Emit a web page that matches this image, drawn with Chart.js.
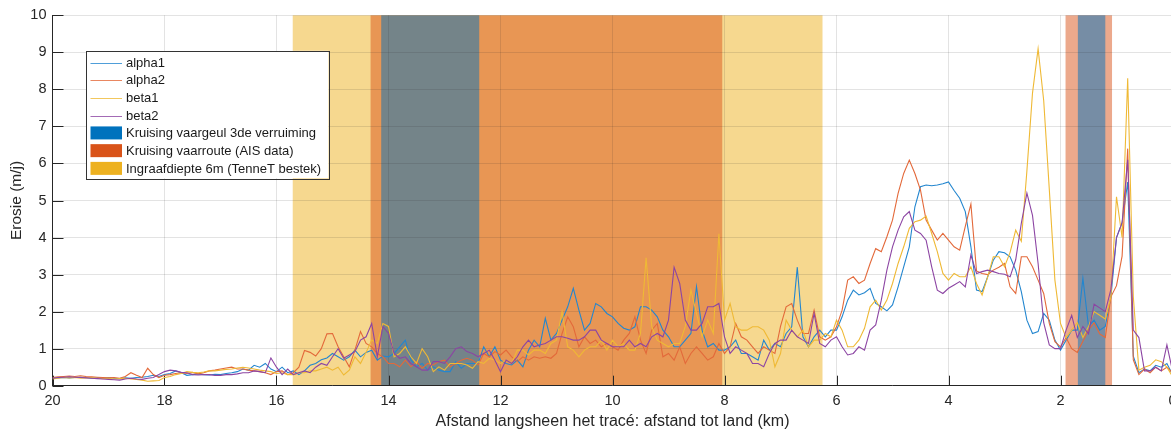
<!DOCTYPE html>
<html>
<head>
<meta charset="utf-8">
<script src="https://cdn.jsdelivr.net/npm/chart.js@4"></script>
<style>
  html, body { margin: 0; padding: 0; background: #fff; overflow: hidden; }
  #wrap { position: absolute; left: 0; top: 0; width: 1174px; height: 430px; }
</style>
</head>
<body>
<div id="wrap"><canvas id="c"></canvas></div>
<script>
// Distance along the route to shore (km), every 100 m
const km = [
  20,19.9,19.8,19.7,19.6,19.5,19.4,19.3,19.2,19.1,
  19,18.9,18.8,18.7,18.6,18.5,18.4,18.3,18.2,18.1,
  18,17.9,17.8,17.7,17.6,17.5,17.4,17.3,17.2,17.1,
  17,16.9,16.8,16.7,16.6,16.5,16.4,16.3,16.2,16.1,
  16,15.9,15.8,15.7,15.6,15.5,15.4,15.3,15.2,15.1,
  15,14.9,14.8,14.7,14.6,14.5,14.4,14.3,14.2,14.1,
  14,13.9,13.8,13.7,13.6,13.5,13.4,13.3,13.2,13.1,
  13,12.9,12.8,12.7,12.6,12.5,12.4,12.3,12.2,12.1,
  12,11.9,11.8,11.7,11.6,11.5,11.4,11.3,11.2,11.1,
  11,10.9,10.8,10.7,10.6,10.5,10.4,10.3,10.2,10.1,
  10,9.9,9.8,9.7,9.6,9.5,9.4,9.3,9.2,9.1,
  9,8.9,8.8,8.7,8.6,8.5,8.4,8.3,8.2,8.1,
  8,7.9,7.8,7.7,7.6,7.5,7.4,7.3,7.2,7.1,
  7,6.9,6.8,6.7,6.6,6.5,6.4,6.3,6.2,6.1,
  6,5.9,5.8,5.7,5.6,5.5,5.4,5.3,5.2,5.1,
  5,4.9,4.8,4.7,4.6,4.5,4.4,4.3,4.2,4.1,
  4,3.9,3.8,3.7,3.6,3.5,3.4,3.3,3.2,3.1,
  3,2.9,2.8,2.7,2.6,2.5,2.4,2.3,2.2,2.1,
  2,1.9,1.8,1.7,1.6,1.5,1.4,1.3,1.2,1.1,
  1,0.9,0.8,0.7,0.6,0.5,0.4,0.3,0.2,0.1,
  0
];

// Erosion (m/j) per scenario
const alpha1 = [
  0.20,0.21,0.22,0.21,0.22,0.23,0.22,0.20,0.21,0.20,
  0.22,0.20,0.19,0.21,0.20,0.22,0.23,0.25,0.28,0.25,
  0.30,0.33,0.40,0.35,0.28,0.30,0.32,0.30,0.29,0.31,
  0.30,0.33,0.35,0.38,0.45,0.42,0.55,0.50,0.60,0.45,
  0.38,0.50,0.35,0.40,0.30,0.40,0.55,0.60,0.70,0.75,
  0.87,0.78,0.69,0.78,0.96,0.78,0.90,0.96,0.69,0.80,
  0.78,0.87,1.05,1.23,0.69,0.51,0.60,0.42,0.51,0.42,
  0.38,0.38,0.65,0.47,0.60,0.60,0.60,1.05,0.78,1.05,
  0.69,0.60,0.56,0.69,0.51,0.96,1.23,1.05,1.82,1.23,
  1.41,1.77,2.13,2.63,2.04,1.50,1.68,2.22,2.13,1.95,
  1.86,1.68,1.55,1.50,1.59,2.13,2.13,2.04,1.86,1.50,
  1.32,1.05,1.05,1.23,1.41,2.67,1.50,1.05,1.14,0.96,
  0.96,1.05,1.23,0.87,0.87,0.78,0.69,1.23,0.96,1.14,
  1.05,1.41,1.59,3.20,1.32,1.05,1.32,1.50,1.32,1.50,
  1.50,1.86,2.31,2.58,2.45,2.51,2.63,2.22,2.13,2.02,
  2.18,2.67,3.21,3.75,4.83,5.37,5.42,5.40,5.42,5.45,
  5.50,5.27,5.06,4.70,3.75,2.58,2.54,2.94,3.39,3.62,
  3.59,3.48,3.12,2.54,1.77,1.41,1.46,1.95,1.77,1.23,
  0.96,1.23,1.50,1.50,2.90,1.60,1.77,1.50,1.60,2.40,
  4.00,4.40,5.50,0.80,0.35,0.45,0.40,0.55,0.50,0.60,
  0.30
];
const alpha2 = [
  0.22,0.24,0.25,0.26,0.25,0.27,0.25,0.24,0.23,0.22,
  0.21,0.22,0.20,0.25,0.35,0.28,0.22,0.47,0.30,0.22,
  0.28,0.30,0.33,0.35,0.33,0.36,0.32,0.35,0.40,0.42,
  0.45,0.48,0.50,0.45,0.45,0.42,0.40,0.38,0.35,0.30,
  0.38,0.40,0.30,0.35,0.50,0.95,0.90,0.80,1.00,1.40,
  1.41,1.05,0.78,0.51,0.96,1.46,1.14,1.05,0.87,0.78,
  0.60,0.60,0.51,0.69,0.51,0.65,0.47,0.60,0.56,0.65,
  0.69,0.51,0.60,0.69,0.74,0.69,0.56,0.87,0.78,0.92,
  0.83,0.96,0.78,0.65,0.78,0.69,0.78,0.74,0.78,0.74,
  0.87,1.41,1.86,1.59,1.05,1.32,1.14,1.23,1.05,1.14,
  1.05,0.96,1.23,1.41,1.86,1.23,0.87,1.50,1.68,0.78,
  0.87,0.69,1.05,0.60,0.87,1.05,0.87,0.69,0.78,1.14,
  0.87,1.05,1.68,1.32,1.23,1.05,0.87,1.05,0.96,0.87,
  1.60,2.13,2.22,1.77,1.41,1.41,2.04,1.32,1.23,1.32,
  1.59,2.04,2.85,2.94,2.76,2.85,3.30,3.70,3.62,4.02,
  4.47,5.19,5.73,6.09,5.73,5.28,4.47,4.20,3.93,4.11,
  3.93,3.75,3.66,4.30,4.90,3.10,3.03,3.00,3.12,3.20,
  3.30,2.67,2.49,3.48,3.48,3.21,2.85,2.49,1.68,1.19,
  1.05,1.30,1.00,0.90,1.20,1.50,1.70,1.40,1.30,2.40,
  2.70,3.50,6.40,0.70,0.30,0.45,0.35,0.50,0.40,0.50,
  0.35
];
const beta1 = [
  0.18,0.20,0.22,0.21,0.22,0.20,0.21,0.22,0.20,0.19,
  0.20,0.18,0.19,0.20,0.18,0.17,0.15,0.12,0.13,0.14,
  0.22,0.25,0.30,0.33,0.38,0.36,0.35,0.37,0.40,0.40,
  0.42,0.44,0.45,0.48,0.50,0.48,0.45,0.42,0.40,0.38,
  0.33,0.35,0.30,0.30,0.35,0.35,0.40,0.40,0.45,0.50,
  0.42,0.50,0.29,0.42,0.78,0.60,0.90,1.23,1.14,1.68,
  1.60,0.78,0.87,1.05,0.78,0.60,1.00,0.78,0.38,0.51,
  0.42,0.60,0.60,0.60,0.56,0.47,0.65,0.60,0.74,0.69,
  0.60,0.69,0.60,0.96,0.96,0.83,0.96,0.96,0.87,1.14,
  1.23,2.00,1.05,0.96,0.78,0.96,1.05,1.05,1.23,0.96,
  1.23,1.05,1.14,0.96,0.96,1.41,3.45,1.60,1.23,1.14,
  1.05,1.14,1.14,1.60,2.58,1.95,1.32,1.77,1.41,4.10,
  1.77,2.22,1.59,1.50,1.50,1.59,1.59,1.50,1.23,0.51,
  0.87,1.77,1.50,1.32,1.50,1.05,1.23,1.23,1.41,1.32,
  1.77,1.50,1.05,1.05,1.23,1.55,2.13,2.31,2.04,2.31,
  2.76,3.30,3.75,4.25,4.43,4.47,4.58,4.11,3.62,3.03,
  2.85,3.03,2.94,2.94,3.21,2.76,2.45,2.94,3.48,3.48,
  3.21,3.60,4.20,3.90,5.80,7.90,9.10,7.70,5.30,2.85,
  1.68,1.30,1.50,1.70,1.30,1.60,2.00,1.90,1.80,2.40,
  5.10,4.00,8.30,2.40,0.42,0.50,0.55,0.70,0.65,0.50,
  0.25
];
const beta2 = [
  0.20,0.22,0.23,0.24,0.23,0.22,0.21,0.20,0.19,0.18,
  0.17,0.16,0.15,0.18,0.20,0.18,0.17,0.20,0.22,0.30,
  0.38,0.42,0.40,0.36,0.35,0.30,0.29,0.30,0.30,0.28,
  0.28,0.30,0.30,0.32,0.35,0.35,0.40,0.38,0.35,0.75,
  0.50,0.30,0.45,0.30,0.35,0.40,0.35,0.50,0.60,0.55,
  0.78,1.00,0.74,0.83,0.92,1.23,1.32,1.68,0.78,1.60,
  1.41,0.87,0.74,0.78,0.60,0.51,0.42,0.42,0.65,0.65,
  0.60,0.78,1.00,1.05,0.92,0.87,0.78,0.87,0.96,0.69,
  0.38,0.69,0.60,0.78,1.05,1.23,1.05,1.10,1.14,1.23,
  1.32,1.32,1.28,1.23,1.23,1.32,1.50,1.50,1.23,1.14,
  1.05,1.05,1.05,1.23,1.05,1.14,1.05,1.32,1.41,1.32,
  1.77,3.20,2.76,1.77,1.50,1.50,1.68,2.13,2.13,2.22,
  1.32,0.87,1.05,0.96,0.87,0.60,0.60,0.51,0.87,1.14,
  1.23,1.23,1.50,1.32,1.23,1.14,1.95,1.14,1.05,1.23,
  1.32,1.05,0.83,0.87,1.05,0.96,1.50,1.64,2.31,3.12,
  3.75,4.20,4.56,4.70,4.20,4.11,3.93,3.21,2.58,2.49,
  2.63,2.72,2.81,2.67,3.53,3.03,3.08,3.12,3.08,3.03,
  3.01,2.94,3.40,4.38,5.20,4.60,3.30,1.70,1.10,1.00,
  1.00,1.50,1.90,1.30,1.60,1.40,2.20,2.10,2.00,2.60,
  4.00,4.40,6.10,1.50,1.30,0.40,0.40,0.50,0.40,1.10,
  0.40
];

const seriesNames = ['alpha1', 'alpha2', 'beta1', 'beta2'];
const seriesColors = ['#2386CF', '#E3693A', '#EFB935', '#8C45A3'];

// Shaded zones along the route: [from km, to km]
const bandNames = ['Kruising vaargeul 3de verruiming', 'Kruising vaarroute (AIS data)', 'Ingraafdiepte 6m (TenneT bestek)'];
const bandColors = ['#0072BD', '#D95319', '#EDB120'];
const vaargeulZones = [[14.13, 12.38], [1.69, 1.20]];
const vaarrouteZones = [[14.32, 8.04], [1.91, 1.08]];
const ingraafZones = [[15.71, 6.25]];

const xTicks = [20, 18, 16, 14, 12, 10, 8, 6, 4, 2, 0];
const yTicks = [0, 1, 2, 3, 4, 5, 6, 7, 8, 9, 10];

const FONT = '"Liberation Sans", Arial, Helvetica, sans-serif';
const AXIS_GREY = '#262626';

// Translucent zones behind the grid, drawn in the order yellow, orange, blue
const zonePlugin = {
  id: 'zones',
  beforeDraw(chart) {
    const { ctx, chartArea: a, scales: { x } } = chart;
    ctx.save();
    ctx.fillStyle = '#ffffff';
    ctx.fillRect(0, 0, chart.width, chart.height);
    ctx.globalAlpha = 0.5;
    const layers = [[ingraafZones, bandColors[2]], [vaarrouteZones, bandColors[1]], [vaargeulZones, bandColors[0]]];
    for (const [zones, color] of layers) {
      ctx.fillStyle = color;
      for (const [z0, z1] of zones) {
        const p0 = x.getPixelForValue(z0);
        const p1 = x.getPixelForValue(z1);
        ctx.fillRect(Math.min(p0, p1), a.top, Math.abs(p1 - p0), a.bottom - a.top);
      }
    }
    ctx.restore();
  }
};

// Tick marks pointing into the plot area
const innerTickPlugin = {
  id: 'innerTicks',
  beforeDatasetsDraw(chart) {
    const { ctx, chartArea: a, scales: { x, y } } = chart;
    ctx.save();
    ctx.strokeStyle = AXIS_GREY;
    ctx.lineWidth = 1;
    ctx.beginPath();
    for (const t of xTicks) {
      const px = Math.round(x.getPixelForValue(t)) + 0.5;
      ctx.moveTo(px, a.bottom);
      ctx.lineTo(px, a.bottom - 10);
    }
    for (const t of yTicks) {
      const py = Math.round(y.getPixelForValue(t)) + 0.5;
      ctx.moveTo(a.left, py);
      ctx.lineTo(a.left + 11, py);
    }
    ctx.stroke();
    ctx.restore();
  }
};

// Boxed legend in the upper left of the plot
const boxLegendPlugin = {
  id: 'boxLegend',
  afterDraw(chart) {
    const { ctx, chartArea: a } = chart;
    const bx = a.left + 33.5, by = a.top + 35.5, bw = 242.5, bh = 127.5;
    const rowH = 17.73, firstRow = by + 11.7;
    ctx.save();
    ctx.fillStyle = '#ffffff';
    ctx.fillRect(bx, by, bw, bh);
    ctx.strokeStyle = '#333333';
    ctx.lineWidth = 1;
    ctx.strokeRect(Math.round(bx) + 0.5, Math.round(by) + 0.5, Math.round(bw), Math.round(bh));
    ctx.font = '13px ' + FONT;
    ctx.textBaseline = 'middle';
    ctx.textAlign = 'left';
    const sx0 = bx + 4.5, sx1 = bx + 36, tx = bx + 40;
    const rows = [];
    chart.data.datasets.forEach(ds => rows.push({ kind: 'line', label: ds.label, color: ds.borderColor }));
    bandNames.forEach((n, i) => rows.push({ kind: 'patch', label: n, color: bandColors[i] }));
    rows.forEach((r, i) => {
      const cy = firstRow + i * rowH;
      if (r.kind === 'line') {
        ctx.strokeStyle = r.color;
        ctx.globalAlpha = 0.8;
        ctx.lineWidth = 1;
        ctx.beginPath();
        ctx.moveTo(sx0, Math.round(cy) + 0.5);
        ctx.lineTo(sx1, Math.round(cy) + 0.5);
        ctx.stroke();
        ctx.globalAlpha = 1;
      } else {
        ctx.fillStyle = r.color;
        ctx.fillRect(sx0, cy - 7, sx1 - sx0, 13);
      }
      ctx.fillStyle = '#1a1a1a';
      ctx.fillText(r.label, tx, cy + 0.5);
    });
    ctx.restore();
  }
};

const seriesData = [alpha1, alpha2, beta1, beta2];

new Chart(document.getElementById('c'), {
  type: 'line',
  data: {
    labels: km,
    datasets: seriesNames.map((name, i) => ({
      label: name,
      data: seriesData[i],
      borderColor: seriesColors[i],
      borderWidth: 1.1,
      pointRadius: 0,
      tension: 0,
      fill: false,
      order: seriesNames.length - i
    }))
  },
  options: {
    responsive: true,
    maintainAspectRatio: false,
    animation: false,
    devicePixelRatio: 1,
    events: [],
    layout: { padding: { top: 15.3, right: 1.5, left: 0, bottom: 0 } },
    plugins: { legend: { display: false }, tooltip: { enabled: false } },
    scales: {
      x: {
        type: 'linear',
        reverse: true,
        min: 0,
        max: 20,
        afterBuildTicks: s => { s.ticks = xTicks.map(v => ({ value: v })); },
        afterFit: s => { s.height = 44.3; s.paddingLeft = 0; s.paddingRight = 0; },
        ticks: { autoSkip: false, maxRotation: 0, padding: 6.5, color: AXIS_GREY, font: { family: FONT, size: 14.5 } },
        grid: { color: 'rgba(38,38,38,0.13)', drawTicks: false },
        border: { color: AXIS_GREY, width: 1 },
        title: {
          display: true,
          text: 'Afstand langsheen het tracé: afstand tot land (km)',
          color: AXIS_GREY,
          font: { family: FONT, size: 16, lineHeight: 1 },
          padding: { top: 0, bottom: 0.3 }
        }
      },
      y: {
        type: 'linear',
        min: 0,
        max: 10,
        afterBuildTicks: s => { s.ticks = yTicks.map(v => ({ value: v })); },
        afterFit: s => { s.width = 52.5; s.paddingTop = 0; s.paddingBottom = 0; },
        ticks: { autoSkip: false, padding: 6, color: AXIS_GREY, font: { family: FONT, size: 14.5 } },
        grid: { color: 'rgba(38,38,38,0.13)', drawTicks: false },
        border: { color: AXIS_GREY, width: 1 },
        title: {
          display: true,
          text: 'Erosie (m/j)',
          color: AXIS_GREY,
          font: { family: FONT, size: 15.5, lineHeight: 1 },
          padding: { top: 8.7, bottom: 0 }
        }
      }
    }
  },
  plugins: [zonePlugin, innerTickPlugin, boxLegendPlugin]
});
</script>
</body>
</html>
